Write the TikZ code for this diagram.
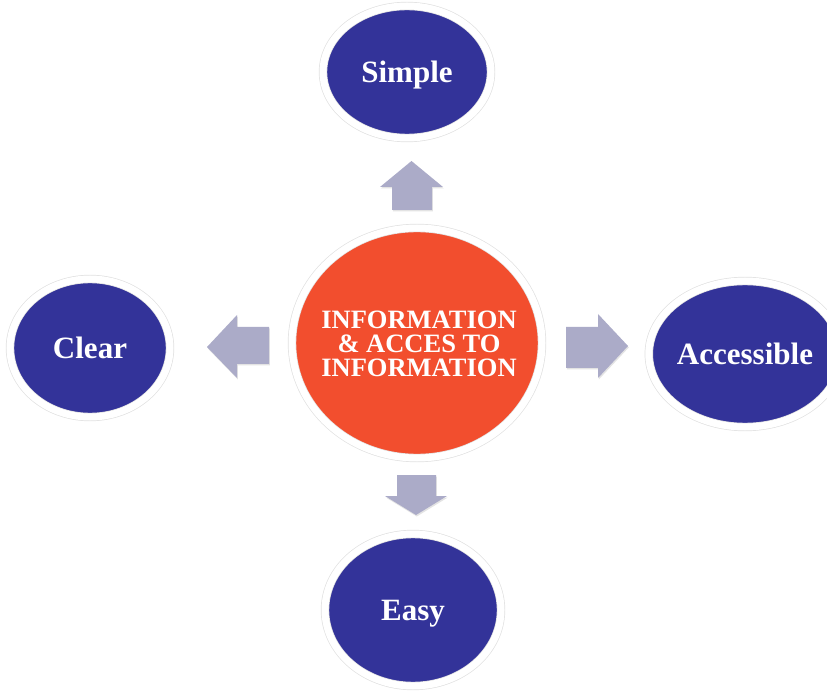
\documentclass[tikz,border=0pt]{standalone}
\usepackage{fontspec}
\setmainfont{Liberation Serif}
\usetikzlibrary{shapes.geometric,shadows}
\definecolor{bubblue}{RGB}{51,51,153}
\definecolor{hubred}{RGB}{242,78,46}
\definecolor{arrowgray}{RGB}{171,171,200}
\definecolor{rimgray}{RGB}{225,225,225}
\tikzset{
  rim/.style={draw=rimgray, line width=0.7pt, double=white, double distance=7pt,
    drop shadow={opacity=0.22, shadow xshift=0.8pt, shadow yshift=-2.5pt}},
  bubble/.style={ellipse, rim, fill=bubblue, inner sep=0pt,
    text height=20.5pt, text depth=0pt,
    text=white, font=\bfseries\fontsize{31}{33}\selectfont},
  hub/.style={ellipse, rim, fill=hubred, inner sep=0pt},
  hubtext/.style={text=white, align=center, inner sep=0pt,
    font=\bfseries\fontsize{26.5}{24}\selectfont},
  blockarrow/.style={fill=arrowgray,
    drop shadow={opacity=0.22, shadow xshift=0.8pt, shadow yshift=-1.5pt}}
}
\begin{document}
\begin{tikzpicture}[x=1pt,y=-1pt]
\useasboundingbox (0,0) rectangle (827,692);
% arrows
\path[blockarrow] (392,210) -- (392,187) -- (380,187) -- (411.5,161) -- (443,187) -- (432,187) -- (432,210) -- cycle;
\path[blockarrow] (269,327) -- (237,327) -- (237,315) -- (207,347) -- (237,378) -- (237,364) -- (269,364) -- cycle;
\path[blockarrow] (566,327) -- (598,327) -- (598,314) -- (628,346) -- (598,378) -- (598,368) -- (566,368) -- cycle;
\path[blockarrow] (397,475) -- (436,475) -- (436,496) -- (447,496) -- (416,515) -- (385,496) -- (397,496) -- cycle;
% nodes
\node[hub, minimum width=250pt, minimum height=230pt] (hub) at (417,343) {};
\node[hubtext] (hubtxt) at (419,344) {INFORMATION\\\& ACCES TO\\INFORMATION};
\node[bubble, minimum width=168pt, minimum height=132pt] (simple) at (407,72) {Simple};
\node[bubble, minimum width=160pt, minimum height=138pt] (clear) at (90,348) {Clear};
\node[bubble, minimum width=174pt, minimum height=146pt] (access) at (745,354) {Accessible};
\node[bubble, minimum width=176pt, minimum height=152pt] (easy) at (413,610) {Easy};
\end{tikzpicture}
\end{document}
